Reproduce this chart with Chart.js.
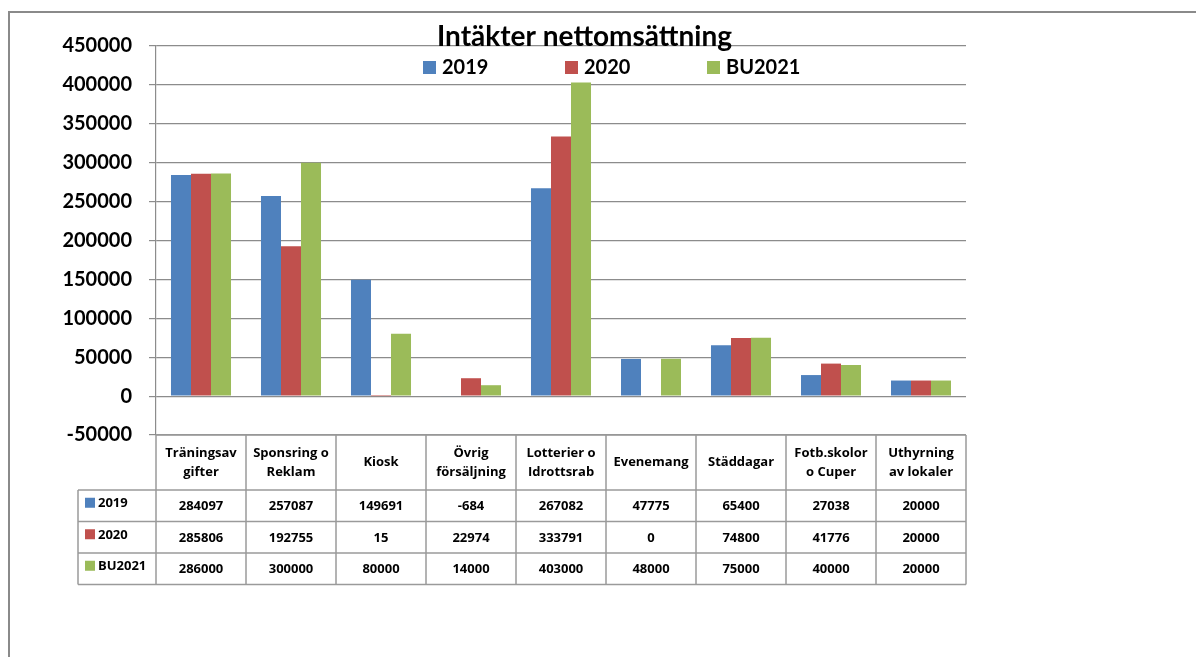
<!DOCTYPE html>
<html>
<head>
<meta charset="utf-8">
<script src="https://cdn.jsdelivr.net/npm/chart.js@4.4.1/dist/chart.umd.min.js"></script>
<style>
    html, body { margin: 0; padding: 0; background: #ffffff; }
    #wrap { position: relative; width: 1196px; height: 657px; overflow: hidden; }
    #frame {
        position: absolute; left: 8px; top: 11px; width: 1300px; height: 800px;
        border-left: 2px solid #8a8a8a; border-top: 2px solid #8a8a8a;
        pointer-events: none;
    }
</style>
</head>
<body>
<div id="wrap">
    <div id="frame"></div>
    <canvas id="chart" width="1196" height="657"></canvas>
</div>
<script>
// Chart data
const chartTitle = 'Intäkter nettomsättning';
const categories = [
    ['Träningsav', 'gifter'],
    ['Sponsring o', 'Reklam'],
    ['Kiosk'],
    ['Övrig', 'försäljning'],
    ['Lotterier o', 'Idrottsrab'],
    ['Evenemang'],
    ['Städdagar'],
    ['Fotb.skolor', 'o Cuper'],
    ['Uthyrning', 'av lokaler']
];
const seriesNames = ['2019', '2020', 'BU2021'];
const values2019 = [284097, 257087, 149691, -684, 267082, 47775, 65400, 27038, 20000];
const values2020 = [285806, 192755, 15, 22974, 333791, 0, 74800, 41776, 20000];
const valuesBU2021 = [286000, 300000, 80000, 14000, 403000, 48000, 75000, 40000, 20000];
const yMin = -50000;
const yMax = 450000;
const yStep = 50000;

const seriesColors = ['#4F81BD', '#C0504D', '#9BBB59'];
const FONT = 'Lato, "Open Sans", sans-serif';
const TABLE_FONT = '"Open Sans", Lato, sans-serif';
const GRID = '#8c8c8c';

/**
 * Title and legend drawn over the top of the plot, as in the original
 */
const titleLegendPlugin = {
    id: 'titleLegendPlugin',
    afterDraw: function(chart) {
        const ctx = chart.ctx;
        ctx.save();
        ctx.fillStyle = '#000';
        ctx.textBaseline = 'middle';
        ctx.font = 'bold 28px ' + FONT;
        ctx.textAlign = 'left';
        ctx.fillText(chartTitle, 437, 37);

        ctx.font = 'bold 20px ' + FONT;
        const legendX = [423, 565, 707];
        chart.data.datasets.forEach((ds, i) => {
            ctx.fillStyle = ds.backgroundColor;
            ctx.fillRect(legendX[i], 61, 13, 13);
            ctx.fillStyle = '#000';
            ctx.fillText(ds.label, legendX[i] + 19, 68);
        });
        ctx.restore();
    }
};

/**
 * Data table under the plot, columns taken from the x scale
 */
const dataTablePlugin = {
    id: 'dataTablePlugin',
    afterDraw: function(chart) {
        const ctx = chart.ctx;
        const xs = chart.scales.x;
        const area = chart.chartArea;
        const half = (xs.right - xs.left) / categories.length / 2;
        const top = area.bottom;
        const headerBottom = top + 55;
        const rowH = 31.5;
        const keyLeft = 78;
        const tableBottom = headerBottom + rowH * chart.data.datasets.length;

        ctx.save();
        ctx.strokeStyle = '#9a9a9a';
        ctx.lineWidth = 1.5;

        // horizontal lines
        ctx.beginPath();
        ctx.moveTo(xs.left, top);
        ctx.lineTo(xs.right, top);
        for (let r = 0; r <= chart.data.datasets.length; r++) {
            const y = headerBottom + r * rowH;
            ctx.moveTo(keyLeft, y);
            ctx.lineTo(xs.right, y);
        }
        // vertical lines
        ctx.moveTo(keyLeft, headerBottom);
        ctx.lineTo(keyLeft, tableBottom);
        for (let i = 0; i <= categories.length; i++) {
            const x = xs.left + i * half * 2;
            ctx.moveTo(x, top);
            ctx.lineTo(x, tableBottom);
        }
        ctx.stroke();

        ctx.fillStyle = '#000';
        ctx.textAlign = 'center';
        ctx.textBaseline = 'middle';
        ctx.font = 'bold 13px ' + TABLE_FONT;

        // header labels
        categories.forEach((lines, i) => {
            const cx = xs.getPixelForValue(i);
            const midY = (top + headerBottom) / 2;
            lines.forEach((line, k) => {
                const y = midY + (k - (lines.length - 1) / 2) * 19;
                ctx.fillText(line, cx, y);
            });
        });

        // rows
        chart.data.datasets.forEach((ds, r) => {
            const cy = headerBottom + r * rowH + rowH / 2;
            ctx.fillStyle = ds.backgroundColor;
            ctx.fillRect(keyLeft + 7, cy - 8, 10, 10);
            ctx.fillStyle = '#000';
            ctx.textAlign = 'left';
            ctx.fillText(ds.label, keyLeft + 20, cy - 2);
            ctx.textAlign = 'center';
            ds.data.forEach((v, i) => {
                ctx.fillText(String(v), xs.getPixelForValue(i), cy + 1);
            });
        });
        ctx.restore();
    }
};

const seriesValues = [values2019, values2020, valuesBU2021];
const datasets = seriesNames.map((name, i) => ({
    label: name,
    data: seriesValues[i],
    backgroundColor: seriesColors[i],
    borderWidth: 0,
    categoryPercentage: 0.667,
    barPercentage: 1.0
}));

new Chart(document.getElementById('chart').getContext('2d'), {
    type: 'bar',
    data: {
        labels: categories.map(c => c.join(' ')),
        datasets: datasets
    },
    plugins: [titleLegendPlugin, dataTablePlugin],
    options: {
        responsive: false,
        animation: false,
        layout: {
            padding: { left: 0, top: 46, right: 230, bottom: 222 }
        },
        plugins: {
            legend: { display: false },
            title: { display: false },
            tooltip: { enabled: false }
        },
        scales: {
            x: {
                display: false,
                grid: { display: false }
            },
            y: {
                min: yMin,
                max: yMax,
                afterFit: function(scale) {
                    scale.width = 156;
                },
                ticks: {
                    stepSize: yStep,
                    color: '#000',
                    padding: 17,
                    font: { family: FONT, size: 20, weight: 'bold' },
                    callback: function(value) {
                        return String(value);
                    }
                },
                grid: {
                    color: GRID,
                    lineWidth: 1.2,
                    tickLength: 7,
                    tickColor: GRID
                },
                border: { display: true, color: GRID, width: 1.2 }
            }
        }
    }
});
</script>
</body>
</html>
